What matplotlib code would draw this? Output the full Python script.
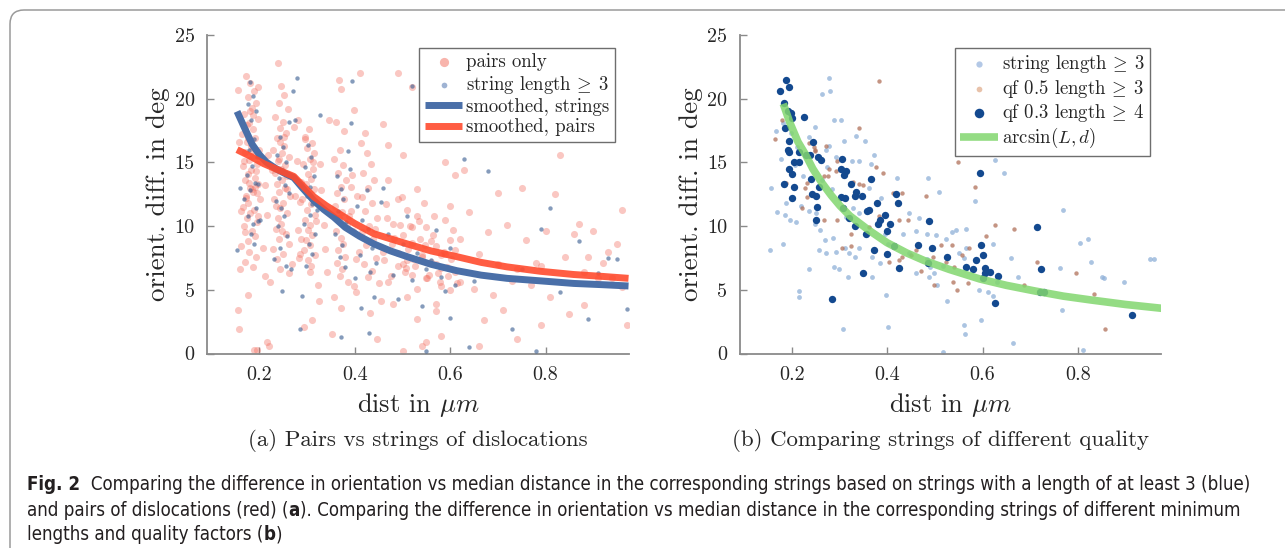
import numpy as np
import matplotlib
matplotlib.use('agg')
import matplotlib.pyplot as plt
from matplotlib import font_manager
from matplotlib.font_manager import FontProperties
from matplotlib.patches import FancyBboxPatch
from matplotlib.transforms import IdentityTransform

# ---------------- panel (a): pairs only ----------------
pairs_x = [0.172, 0.181, 0.188, 0.176, 0.193, 0.184, 0.168, 0.197, 0.179, 0.186,
           0.163, 0.191, 0.174, 0.182, 0.199, 0.170, 0.187, 0.178, 0.194, 0.166,
           0.183, 0.175, 0.190, 0.169, 0.196, 0.180, 0.186, 0.172, 0.201, 0.177,
           0.165, 0.189, 0.181, 0.173, 0.195, 0.168, 0.184, 0.191, 0.176, 0.162,
           0.178, 0.193, 0.170, 0.186, 0.159, 0.198, 0.181, 0.174, 0.189, 0.167,
           0.192, 0.179, 0.185, 0.171, 0.196, 0.155, 0.158, 0.188, 0.195, 0.176,
           0.154, 0.157, 0.161, 0.183, 0.190, 0.177, 0.199, 0.169, 0.187, 0.194,
           0.238, 0.246, 0.252, 0.241, 0.259, 0.233, 0.249, 0.244, 0.256, 0.236,
           0.243, 0.251, 0.229, 0.247, 0.262, 0.239, 0.254, 0.245, 0.232, 0.258,
           0.248, 0.236, 0.253, 0.241, 0.265, 0.230, 0.250, 0.244, 0.257, 0.239,
           0.246, 0.234, 0.255, 0.242, 0.261, 0.228, 0.249, 0.237, 0.268, 0.243,
           0.252, 0.240, 0.226, 0.258, 0.235, 0.247, 0.262, 0.220, 0.216, 0.222,
           0.303, 0.296, 0.310, 0.299, 0.315, 0.306, 0.292, 0.312, 0.301, 0.308,
           0.297, 0.314, 0.304, 0.290, 0.309, 0.300, 0.317, 0.295, 0.306, 0.302,
           0.311, 0.298, 0.305, 0.293, 0.316, 0.301, 0.308, 0.296, 0.313, 0.287,
           0.284, 0.319, 0.288, 0.305, 0.322, 0.280, 0.294, 0.325, 0.310, 0.285,
           0.366, 0.372, 0.361, 0.378, 0.369, 0.357, 0.375, 0.364, 0.381, 0.370,
           0.363, 0.377, 0.359, 0.373, 0.367, 0.383, 0.360, 0.371, 0.376, 0.365,
           0.379, 0.362, 0.374, 0.368, 0.385, 0.356, 0.371, 0.352, 0.388, 0.346,
           0.412, 0.425, 0.433, 0.418, 0.441, 0.428, 0.405, 0.437, 0.421, 0.446,
           0.430, 0.415, 0.439, 0.424, 0.408, 0.444, 0.419, 0.435, 0.427, 0.450,
           0.416, 0.442, 0.403, 0.431, 0.455, 0.398, 0.422, 0.447, 0.410, 0.395,
           0.47, 0.49, 0.51, 0.48, 0.53, 0.50, 0.52, 0.46, 0.55, 0.54,
           0.57, 0.56, 0.59, 0.58, 0.61, 0.60, 0.49, 0.52, 0.47, 0.55,
           0.58, 0.60, 0.62, 0.51, 0.48, 0.53, 0.57, 0.50, 0.59, 0.62,
           0.46, 0.52, 0.56, 0.61, 0.49, 0.54, 0.58, 0.47, 0.53, 0.60,
           0.64, 0.66, 0.68, 0.70, 0.72, 0.74, 0.76, 0.78, 0.80, 0.82,
           0.84, 0.86, 0.88, 0.90, 0.92, 0.94, 0.96, 0.65, 0.69, 0.73,
           0.77, 0.81, 0.85, 0.89, 0.93, 0.97, 0.67, 0.71, 0.75, 0.79,
           0.83, 0.87, 0.91, 0.95, 0.66, 0.74, 0.88, 0.96, 0.70, 0.79,
           0.212, 0.215, 0.208, 0.218, 0.211, 0.275, 0.280, 0.278, 0.283, 0.272,
           0.330, 0.335, 0.328, 0.338, 0.342, 0.391, 0.397, 0.402, 0.393, 0.399,
           0.462, 0.468, 0.475, 0.483, 0.491, 0.498, 0.505, 0.512, 0.519, 0.527,
           0.534, 0.541, 0.548, 0.556, 0.563, 0.571, 0.578, 0.586, 0.593, 0.601,
           0.465, 0.479, 0.494, 0.508, 0.523, 0.537, 0.552, 0.566, 0.581, 0.596,
           0.610, 0.615, 0.605, 0.590, 0.575, 0.560, 0.545, 0.530, 0.515, 0.500,
           0.50, 0.55, 0.57, 0.63, 0.51]
pairs_y = [21.8, 21.2, 20.6, 20.1, 19.7, 19.3, 18.8, 18.4, 18.1, 17.6,
           17.2, 16.9, 16.6, 16.3, 16.0, 15.8, 15.5, 15.2, 14.9, 14.7,
           14.4, 14.1, 13.8, 13.6, 13.3, 13.0, 12.7, 12.4, 12.1, 11.8,
           11.5, 11.3, 11.0, 10.6, 10.3, 10.0, 9.6, 9.2, 8.8, 8.4,
           8.0, 7.6, 7.2, 6.8, 6.6, 20.9, 19.0, 17.9, 16.1, 15.1,
           14.3, 13.4, 12.9, 12.2, 10.8, 3.4, 1.9, 0.3, 0.3, 4.6,
           20.7, 16.6, 11.2, 15.9, 13.1, 16.9, 15.5, 9.5, 18.7, 12.6,
           22.8, 21.0, 20.3, 19.7, 19.2, 18.6, 18.2, 17.7, 17.3, 16.9,
           16.6, 16.3, 16.0, 15.7, 15.4, 15.1, 14.8, 14.5, 14.2, 13.9,
           13.6, 13.3, 13.0, 12.7, 12.4, 12.1, 11.8, 11.4, 11.0, 10.6,
           10.2, 9.8, 9.4, 9.0, 8.6, 8.2, 7.8, 7.4, 7.0, 6.6,
           17.0, 15.3, 14.4, 12.9, 11.6, 9.6, 6.3, 0.6, 0.9, 5.6,
           17.6, 17.0, 16.5, 16.1, 15.7, 15.3, 14.9, 14.5, 14.1, 13.7,
           13.3, 12.9, 12.5, 12.1, 11.7, 11.3, 10.9, 10.5, 10.1, 9.7,
           9.3, 8.9, 8.5, 8.1, 7.7, 7.3, 6.9, 16.8, 15.0, 13.5,
           11.9, 10.4, 9.0, 6.4, 5.4, 18.3, 2.1, 4.1, 2.6, 7.8,
           21.5, 20.8, 18.2, 17.5, 16.0, 15.3, 14.8, 14.2, 13.6, 13.1,
           12.6, 12.1, 11.6, 11.1, 10.6, 10.1, 9.6, 9.1, 8.6, 8.1,
           7.6, 7.1, 6.6, 6.1, 5.6, 4.4, 3.6, 1.5, 10.8, 18.3,
           16.5, 15.7, 14.9, 14.2, 13.6, 13.0, 12.4, 11.8, 11.2, 10.6,
           10.0, 9.5, 9.0, 8.5, 8.0, 7.5, 7.0, 6.5, 6.0, 5.5,
           12.3, 9.8, 4.8, 3.2, 4.1, 19.1, 17.3, 1.1, 22.0, 14.0,
           13.6, 12.1, 11.3, 10.2, 10.8, 9.3, 8.7, 8.0, 9.9, 7.6,
           8.4, 7.2, 7.8, 6.7, 6.4, 8.9, 6.9, 6.2, 5.6, 5.9,
           5.3, 5.0, 5.6, 4.4, 3.9, 2.7, 3.3, 15.6, 15.0, 9.0,
           18.0, 20.9, 17.9, 14.0, 22.0, 0.6, 1.4, 16.4, 12.9, 11.6,
           11.1, 7.8, 9.5, 7.0, 10.1, 6.6, 8.9, 7.1, 9.6, 12.5,
           7.6, 9.4, 6.4, 9.6, 7.1, 5.9, 11.3, 5.1, 4.6, 5.7,
           5.4, 4.4, 3.1, 7.6, 8.0, 2.2, 2.6, 3.4, 13.0, 2.2,
           15.6, 10.2, 5.9, 8.6, 0.6, 1.1, 3.8, 5.2, 12.6, 6.9,
           13.2, 10.9, 8.3, 15.6, 6.1, 12.4, 9.7, 15.1, 7.5, 17.8,
           12.8, 10.1, 14.9, 8.2, 6.4, 13.1, 9.6, 7.4, 11.2, 5.3,
           7.3, 10.6, 6.1, 9.1, 7.9, 12.3, 6.4, 8.2, 9.9, 6.9,
           10.4, 7.7, 8.5, 6.2, 9.3, 7.0, 5.6, 8.0, 6.8, 7.4,
           11.7, 8.6, 10.1, 6.7, 7.4, 9.0, 5.9, 10.8, 7.7, 6.1,
           8.1, 5.5, 9.7, 10.5, 6.3, 8.8, 11.8, 5.1, 10.0, 7.0,
           0.2, 0.9, 3.9, 14.4, 7.3]

# panel (a): strings of length >= 3
str_x = [0.180, 0.186, 0.175, 0.192, 0.183, 0.171, 0.189, 0.178, 0.195, 0.185,
         0.174, 0.190, 0.181, 0.168, 0.193, 0.177, 0.187, 0.182, 0.152, 0.198,
         0.197, 0.201, 0.160, 0.188, 0.243, 0.250, 0.237, 0.256, 0.247, 0.240,
         0.253, 0.261, 0.234, 0.245, 0.251, 0.238, 0.258, 0.244, 0.266, 0.230,
         0.248, 0.274, 0.279, 0.271, 0.262, 0.255, 0.302, 0.309, 0.296, 0.314,
         0.305, 0.299, 0.311, 0.306, 0.293, 0.316, 0.303, 0.310, 0.298, 0.290,
         0.320, 0.285, 0.327, 0.362, 0.370, 0.376, 0.365, 0.381, 0.358, 0.373,
         0.368, 0.380, 0.390, 0.405, 0.416, 0.428, 0.421, 0.437, 0.410, 0.444,
         0.432, 0.400, 0.425, 0.395, 0.412, 0.385, 0.440, 0.372, 0.393, 0.455,
         0.47, 0.50, 0.53, 0.56, 0.48, 0.52, 0.55, 0.58, 0.60, 0.62,
         0.51, 0.57, 0.61, 0.49, 0.54, 0.59, 0.46, 0.63, 0.65, 0.68,
         0.71, 0.75, 0.79, 0.83, 0.87, 0.91, 0.95, 0.97, 0.73, 0.81,
         0.89, 0.64, 0.93, 0.78, 0.55, 0.60, 0.52, 0.43]
str_y = [21.3, 20.2, 19.6, 19.0, 18.3, 17.5, 16.8, 16.0, 15.4, 14.7,
         14.0, 13.4, 12.8, 12.1, 11.4, 10.8, 10.2, 9.4, 8.1, 13.3,
         10.4, 10.5, 13.0, 8.6, 17.0, 16.2, 15.6, 15.0, 14.4, 13.8,
         13.2, 12.6, 12.0, 11.4, 10.8, 10.0, 9.2, 8.3, 6.6, 7.4,
         4.9, 18.3, 21.6, 20.6, 18.2, 6.9, 16.4, 15.4, 14.6, 13.9,
         13.1, 12.4, 11.7, 10.9, 10.2, 9.4, 8.6, 7.8, 6.9, 4.5,
         11.3, 1.9, 18.7, 13.9, 12.9, 12.1, 11.2, 10.3, 9.4, 8.5,
         7.6, 6.8, 14.5, 11.6, 10.5, 9.8, 9.0, 8.3, 7.7, 7.1,
         6.4, 5.9, 12.8, 21.4, 3.6, 15.9, 4.4, 1.3, 18.1, 11.9,
         9.4, 8.6, 7.9, 7.3, 6.2, 5.8, 6.6, 6.0, 8.3, 6.5,
         10.8, 9.7, 5.4, 4.3, 3.7, 4.9, 13.0, 15.3, 5.7, 14.3,
         6.0, 6.6, 9.8, 4.8, 8.8, 6.3, 7.4, 3.5, 1.9, 11.4,
         2.7, 0.5, 7.5, 0.2, 0.2, 2.8, 21.0, 1.6]

# smoothed curves
smooth_d = [0.153, 0.170, 0.185, 0.200, 0.215, 0.235, 0.255, 0.272, 0.290, 0.314,
            0.335, 0.356, 0.380, 0.410, 0.440, 0.475, 0.510, 0.560, 0.614, 0.665,
            0.719, 0.790, 0.859, 0.920, 0.974]
smooth_strings = [19.0, 17.6, 16.4, 15.6, 15.0, 14.5, 14.1, 13.8, 13.0, 12.0,
                  11.3, 10.7, 9.9, 9.2, 8.6, 8.05, 7.6, 7.0, 6.5, 6.15,
                  5.9, 5.7, 5.5, 5.4, 5.3]
smooth_pairs_d = [0.153, 0.180, 0.209, 0.240, 0.272, 0.290, 0.314, 0.340, 0.370, 0.400,
                  0.440, 0.475, 0.510, 0.560, 0.614, 0.665, 0.719, 0.790, 0.859, 0.920,
                  0.974]
smooth_pairs = [16.0, 15.5, 14.9, 14.4, 13.9, 13.2, 12.3, 11.6, 10.9, 10.2,
                9.4, 9.0, 8.6, 8.05, 7.6, 7.15, 6.8, 6.45, 6.2, 6.05,
                5.9]

# ---------------- panel (b) ----------------
sb_x = [0.277, 0.263, 0.280, 0.166, 0.180, 0.198, 0.247, 0.234, 0.287, 0.303,
        0.308, 0.333, 0.352, 0.270, 0.278, 0.291, 0.326, 0.341, 0.366, 0.371,
        0.420, 0.156, 0.168, 0.184, 0.196, 0.207, 0.219, 0.235, 0.186, 0.180,
        0.153, 0.257, 0.270, 0.268, 0.285, 0.291, 0.310, 0.320, 0.287, 0.298,
        0.317, 0.331, 0.341, 0.368, 0.368, 0.385, 0.401, 0.396, 0.401, 0.306,
        0.214, 0.215, 0.234, 0.387, 0.362, 0.394, 0.446, 0.466, 0.461, 0.484,
        0.432, 0.446, 0.484, 0.490, 0.460, 0.488, 0.341, 0.327, 0.313, 0.259,
        0.248, 0.250, 0.626, 0.644, 0.584, 0.508, 0.485, 0.769, 0.804, 0.821,
        0.827, 0.850, 0.763, 0.675, 0.659, 0.621, 0.565, 0.544, 0.535, 0.523,
        0.502, 0.565, 0.561, 0.551, 0.516, 0.498, 0.505, 0.593, 0.612, 0.621,
        0.630, 0.526, 0.596, 0.560, 0.562, 0.663, 0.517, 0.811, 0.766, 0.952,
        0.961, 0.898, 0.855, 0.205, 0.222, 0.210, 0.176, 0.262, 0.283, 0.272]
sb_y = [21.6, 20.4, 20.6, 17.5, 18.1, 17.3, 17.8, 17.0, 18.3, 18.3,
        16.7, 17.1, 16.7, 16.0, 16.3, 15.4, 15.1, 15.1, 14.9, 15.6,
        13.8, 13.0, 11.1, 10.9, 10.5, 10.3, 11.6, 11.2, 11.8, 8.6,
        8.1, 8.1, 7.9, 8.9, 9.1, 8.0, 8.3, 7.9, 6.8, 6.6,
        6.0, 7.6, 8.3, 6.0, 7.6, 7.1, 8.6, 4.6, 2.1, 1.9,
        4.9, 4.4, 6.6, 12.2, 13.0, 9.4, 11.0, 10.6, 9.6, 9.4,
        9.4, 7.9, 7.4, 6.8, 6.3, 6.0, 11.0, 11.4, 10.7, 9.7,
        10.2, 11.0, 15.2, 14.2, 12.0, 12.7, 13.8, 11.3, 8.7, 9.0,
        7.2, 6.0, 6.7, 6.0, 7.5, 8.6, 9.8, 9.7, 9.5, 9.0,
        9.3, 8.3, 7.5, 7.9, 6.9, 6.3, 5.4, 5.0, 4.8, 4.5,
        5.6, 4.1, 2.6, 2.2, 1.5, 0.8, 0.1, 0.3, 3.4, 7.4,
        7.4, 5.6, 5.9, 14.8, 13.9, 16.2, 15.3, 13.6, 12.9, 14.6]

qf5_x = [0.382, 0.163, 0.178, 0.235, 0.245, 0.248, 0.270, 0.277, 0.294, 0.341,
         0.292, 0.276, 0.231, 0.226, 0.186, 0.327, 0.341, 0.390, 0.376, 0.220,
         0.231, 0.267, 0.294, 0.324, 0.304, 0.361, 0.383, 0.411, 0.425, 0.431,
         0.443, 0.450, 0.459, 0.470, 0.425, 0.404, 0.481, 0.431, 0.324, 0.348,
         0.266, 0.247, 0.549, 0.584, 0.607, 0.625, 0.666, 0.512, 0.535, 0.572,
         0.556, 0.496, 0.523, 0.540, 0.498, 0.537, 0.570, 0.688, 0.547, 0.715,
         0.797, 0.834, 0.858]
qf5_y = [21.4, 16.8, 18.3, 16.5, 16.2, 16.0, 16.3, 14.5, 15.1, 17.7,
         14.3, 13.9, 13.4, 13.0, 13.4, 13.5, 13.3, 14.2, 14.6, 11.4,
         12.3, 10.5, 10.5, 9.4, 8.3, 9.9, 10.8, 12.6, 10.5, 12.6,
         10.5, 7.7, 8.1, 6.5, 7.3, 7.2, 12.4, 7.6, 8.4, 13.2,
         13.9, 15.9, 15.0, 13.1, 9.2, 10.1, 9.8, 8.5, 8.5, 8.3,
         7.7, 7.6, 7.2, 6.8, 5.4, 5.6, 5.5, 5.4, 5.0, 7.2,
         6.3, 4.7, 1.9]

qf3_x = [0.186, 0.175, 0.194, 0.182, 0.191, 0.198, 0.199, 0.224, 0.184, 0.194,
         0.243, 0.191, 0.194, 0.215, 0.229, 0.238, 0.255, 0.261, 0.203, 0.214,
         0.305, 0.194, 0.199, 0.302, 0.308, 0.313, 0.240, 0.182, 0.256, 0.366,
         0.203, 0.324, 0.331, 0.334, 0.347, 0.302, 0.311, 0.250, 0.242, 0.199,
         0.252, 0.306, 0.357, 0.361, 0.378, 0.417, 0.422, 0.250, 0.320, 0.331,
         0.354, 0.371, 0.380, 0.385, 0.394, 0.398, 0.405, 0.398, 0.424, 0.348,
         0.284, 0.465, 0.488, 0.494, 0.594, 0.526, 0.596, 0.601, 0.587, 0.565,
         0.579, 0.605, 0.615, 0.604, 0.633, 0.601, 0.626, 0.715, 0.723, 0.720,
         0.730, 0.913, 0.414, 0.486]
qf3_y = [21.5, 20.6, 20.9, 19.7, 19.0, 18.9, 18.5, 18.6, 17.7, 16.7,
         16.6, 16.0, 15.8, 15.8, 15.6, 15.6, 15.4, 15.2, 15.0, 15.0,
         15.3, 14.5, 14.1, 14.5, 14.0, 14.3, 13.7, 13.3, 13.1, 13.7,
         13.1, 13.3, 12.4, 12.7, 12.4, 12.3, 12.2, 12.4, 12.5, 12.2,
         11.5, 11.4, 11.2, 11.3, 11.8, 12.5, 11.8, 10.5, 10.6, 10.0,
         9.4, 8.1, 10.2, 10.5, 10.9, 9.6, 10.2, 7.8, 6.7, 6.3,
         4.3, 8.5, 10.4, 8.3, 14.2, 7.6, 8.5, 7.7, 7.3, 6.8,
         6.6, 6.7, 6.4, 6.3, 6.1, 5.9, 4.0, 9.9, 6.6, 4.8,
         4.8, 3.0, 8.4, 7.1]

# arcsin(L, d) model curve
arc_d = [0.181, 0.195, 0.212, 0.228, 0.243, 0.262, 0.282, 0.300, 0.321, 0.360,
         0.399, 0.440, 0.477, 0.530, 0.594, 0.650, 0.711, 0.770, 0.828, 0.900, 0.976]
arc_deg = [19.6, 18.1, 16.6, 15.6, 14.5, 13.4, 12.4, 11.6, 10.8, 9.7,
           8.7, 7.9, 7.3, 6.6, 5.85, 5.35, 4.9, 4.5, 4.2, 3.85, 3.55]

xticks = [0.2, 0.4, 0.6, 0.8]
yticks = [0, 5, 10, 15, 20, 25]

GEQ = r'$\!\geq\!$'

caption_lines = [
    [("Fig. 2", True), ("  Comparing the difference in orientation vs median distance in the corresponding strings "
                       "based on strings with a length of at least 3 (blue)", False)],
    [("and pairs of dislocations (red) (", False), ("a", True),
     ("). Comparing the difference in orientation vs median distance in the corresponding strings of different minimum", False)],
    [("lengths and quality factors (", False), ("b", True), (")", False)],
]

plt.rcParams['mathtext.fontset'] = 'cm'
plt.rcParams['font.family'] = 'cmr10'
plt.rcParams['axes.unicode_minus'] = False
plt.rcParams['axes.formatter.use_mathtext'] = True

W, H = 1285, 548
fig = plt.figure(figsize=(W / 100, H / 100), dpi=100)
fig.patch.set_facecolor('white')

axa = fig.add_axes([207 / W, 1 - 353.5 / H, 422 / W, 318.5 / H])
axb = fig.add_axes([740 / W, 1 - 353.5 / H, 421 / W, 318.5 / H])


def style(ax):
    ax.set_xlim(0.09, 0.975)
    ax.set_ylim(0, 25)
    ax.set_xticks(xticks)
    ax.set_xticklabels([f'{t:.1f}' for t in xticks])
    ax.set_yticks(yticks)
    ax.set_yticklabels([str(t) for t in yticks])
    for s in ['top', 'right']:
        ax.spines[s].set_visible(False)
    for s in ['left', 'bottom']:
        ax.spines[s].set_color('#8a8a8a')
        ax.spines[s].set_linewidth(1.3)
    ax.tick_params(direction='in', length=5, width=1, color='#8a8a8a',
                   labelsize=14.5, labelcolor='#262626', pad=9)
    ax.set_xlabel(r'dist in $\mu m$', fontsize=19, color='#262626', labelpad=5)
    ax.set_ylabel('orient. diff. in deg', fontsize=19.5, color='#262626', labelpad=3)


def legend(ax, anchor):
    lg = ax.legend(loc='upper right', bbox_to_anchor=anchor, frameon=True,
                   fancybox=False, edgecolor='#6e6e6e', framealpha=1, fontsize=13.5,
                   handlelength=2.0, handletextpad=0.2, borderpad=0.3,
                   labelspacing=0.12, borderaxespad=0, markerscale=1.3)
    lg.get_frame().set_linewidth(1.0)
    for t in lg.get_texts():
        t.set_color('#262626')
    return lg


# panel (a)
axa.scatter(pairs_x, pairs_y, s=26, color='#f26656', alpha=0.36, linewidths=0,
            label='pairs only', zorder=2)
axa.scatter(str_x, str_y, s=10, color='#34598f', alpha=0.6, linewidths=0,
            label='string length ' + GEQ + ' 3', zorder=3)
axa.plot(smooth_d, smooth_strings, color='#4a6fa8', lw=5, solid_capstyle='butt',
         solid_joinstyle='round', label='smoothed, strings', zorder=4)
axa.plot(smooth_pairs_d, smooth_pairs, color='#ff4b2e', lw=5, alpha=0.9,
         solid_capstyle='butt', solid_joinstyle='round', label='smoothed, pairs', zorder=5)
style(axa)
lga = legend(axa, (0.967, 0.96))
for h, c in zip(lga.legend_handles[:2], ['#f8b4ac', '#9fb3d3']):
    h.set_alpha(1)
    h.set_color(c)

# panel (b)
axb.scatter(sb_x, sb_y, s=12, color='#8fb0d8', alpha=0.75, linewidths=0,
            label='string length ' + GEQ + ' 3', zorder=2)
axb.scatter(qf5_x, qf5_y, s=10, color='#b0715a', alpha=0.75, linewidths=0,
            label='qf 0.5 length ' + GEQ + ' 3', zorder=3)
axb.scatter(qf3_x, qf3_y, s=28, color='#13498f', linewidths=0,
            label='qf 0.3 length ' + GEQ + ' 4', zorder=4)
axb.plot(arc_d, arc_deg, color='#82d66e', lw=5.5, alpha=0.85, solid_capstyle='butt',
         solid_joinstyle='round', label=r'$\arcsin(L,d)$', zorder=5)
style(axb)
lgb = legend(axb, (0.974, 0.96))
for h, c in zip(lgb.legend_handles[:3], ['#b3c8e6', '#e8c2aa', '#13498f']):
    h.set_alpha(1)
    h.set_color(c)

# sub captions
fig.text(418 / W, 1 - 440 / H, '(a) Pairs vs strings of dislocations',
         ha='center', va='center', fontsize=16.5, color='#262626')
fig.text(941 / W, 1 - 440 / H, '(b) Comparing strings of different quality',
         ha='center', va='center', fontsize=16.5, color='#262626')

# figure caption, preferably in a narrow sans face
reg_file, bold_file = None, None
for f in font_manager.fontManager.ttflist:
    if ('Narrow' in f.fname or 'Condensed' in f.fname) and f.style == 'normal':
        if str(f.weight) in ('400', 'normal', 'regular') and reg_file is None:
            reg_file = (f.name, f.fname)
for f in font_manager.fontManager.ttflist:
    if reg_file and f.name == reg_file[0] and ('Narrow' in f.fname or 'Condensed' in f.fname) \
            and f.style == 'normal' and str(f.weight) in ('700', 'bold'):
        bold_file = f.fname
        break


def cap_props(bold):
    if reg_file and bold_file:
        return FontProperties(fname=bold_file if bold else reg_file[1])
    return FontProperties(family='Open Sans', weight='bold' if bold else 'normal')


renderer = fig.canvas.get_renderer()


def draw_line(parts, x0, y, size):
    x = x0
    drawn = []
    for txt, bold in parts:
        fp = cap_props(bold)
        fp.set_size(size)
        t = fig.text(x, y, txt, fontproperties=fp, color='#231f20', va='center', ha='left')
        drawn.append(t)
        x += t.get_window_extent(renderer).width / W
    return x, drawn


# size the caption so the first line spans the same width as in the figure
end, probe = draw_line(caption_lines[0], 0, -1, 12)
for t in probe:
    t.remove()
cap_size = 12 * (1253 - 27) / (end * W)
for line, yp in zip(caption_lines, [484, 510, 535]):
    draw_line(line, 27 / W, 1 - yp / H, cap_size)

# rounded frame around the whole figure
frame = FancyBboxPatch((10, -30), W + 40, H - 10 + 30,
                       boxstyle='round,pad=0,rounding_size=14',
                       transform=IdentityTransform(), fill=False,
                       edgecolor='#9a9a9a', linewidth=1.1)
fig.patches.append(frame)

fig.savefig('out.png', dpi=100)
